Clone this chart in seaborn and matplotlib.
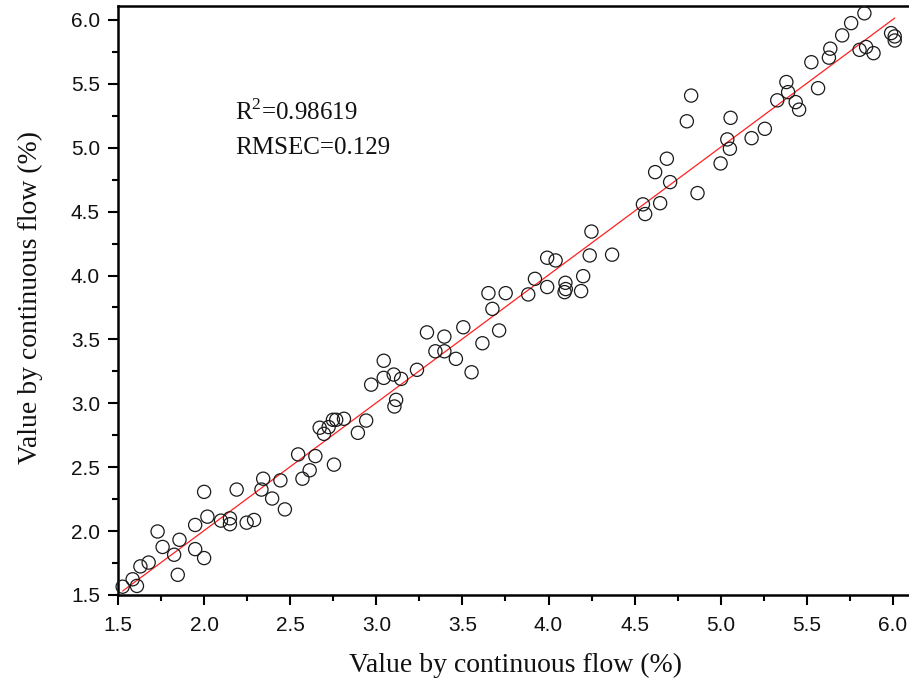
import numpy as np
import pandas as pd
import matplotlib
matplotlib.use("Agg")
import matplotlib.pyplot as plt
import seaborn as sns

# Reference values vs. values measured by continuous flow (%)
reference = [
    1.527, 1.585, 1.610, 1.630, 1.678, 1.730, 1.759, 1.826, 1.857, 1.847,
    1.948, 1.948, 2.000, 2.000, 2.019, 2.098, 2.150, 2.150, 2.189, 2.247,
    2.290, 2.343, 2.333, 2.395, 2.443, 2.469, 2.546, 2.571, 2.613, 2.646,
    2.754, 2.671, 2.696, 2.723, 2.748, 2.767, 2.812, 2.893, 2.941, 2.970,
    3.043, 3.043, 3.101, 3.144, 3.115, 3.105, 3.236, 3.294, 3.343, 3.395,
    3.395, 3.462, 3.505, 3.553, 3.616, 3.713, 3.674, 3.651, 3.751, 3.882,
    3.921, 3.992, 4.041, 3.992, 4.098, 4.093, 4.100, 4.201, 4.189, 4.239,
    4.249, 4.369, 4.548, 4.561, 4.648, 4.619, 4.706, 4.687, 4.865, 4.803,
    4.828, 4.999, 5.038, 5.053, 5.057, 5.179, 5.256, 5.328, 5.381, 5.391,
    5.435, 5.455, 5.565, 5.526, 5.628, 5.636, 5.705, 5.757, 5.834, 5.806,
    5.844, 5.887, 5.989, 6.010, 6.010,
]
measured = [
    1.565, 1.623, 1.571, 1.724, 1.754, 1.997, 1.876, 1.815, 1.932, 1.658,
    2.048, 1.859, 2.307, 1.789, 2.113, 2.082, 2.100, 2.054, 2.325, 2.066,
    2.087, 2.410, 2.325, 2.255, 2.397, 2.170, 2.600, 2.410, 2.476, 2.587,
    2.520, 2.809, 2.761, 2.814, 2.871, 2.871, 2.879, 2.769, 2.865, 3.146,
    3.333, 3.199, 3.225, 3.191, 3.027, 2.975, 3.262, 3.555, 3.407, 3.522,
    3.407, 3.348, 3.595, 3.243, 3.470, 3.570, 3.739, 3.862, 3.862, 3.852,
    3.974, 4.139, 4.118, 3.910, 3.943, 3.870, 3.894, 3.995, 3.878, 4.157,
    4.344, 4.163, 4.557, 4.481, 4.566, 4.809, 4.731, 4.914, 4.645, 5.207,
    5.408, 4.877, 5.065, 4.992, 5.234, 5.075, 5.148, 5.371, 5.514, 5.435,
    5.357, 5.298, 5.466, 5.669, 5.705, 5.775, 5.879, 5.975, 6.052, 5.766,
    5.788, 5.740, 5.897, 5.871, 5.839,
]

x_ticks = [1.5, 2.0, 2.5, 3.0, 3.5, 4.0, 4.5, 5.0, 5.5, 6.0]
y_ticks = [1.5, 2.0, 2.5, 3.0, 3.5, 4.0, 4.5, 5.0, 5.5, 6.0]
r2_text = "R$^2$=0.98619"
rmsec_text = "RMSEC=0.129"
x_label = "Value by continuous flow (%)"
y_label = "Value by continuous flow (%)"

df = pd.DataFrame({"x": reference, "y": measured})

sns.set_theme(style="ticks")
plt.rcParams["font.family"] = ["Liberation Sans", "DejaVu Sans"]
plt.rcParams["mathtext.fontset"] = "custom"
plt.rcParams["mathtext.rm"] = "Liberation Serif"

fig = plt.figure(figsize=(9.09, 6.87), dpi=100)
# axes box: left edge at 118 px, bottom at 595 px, top at 6 px, right past 909 px
ax = fig.add_axes([118 / 909, 92 / 687, 791 / 909, 589 / 687])

# linear fit line
sns.regplot(data=df, x="x", y="y", scatter=False, ci=None, ax=ax,
            line_kws={"color": "#ff2020", "linewidth": 0.9, "zorder": 2})

# open circle markers
sns.scatterplot(data=df, x="x", y="y", ax=ax, marker="o", s=90,
                facecolor="none", edgecolor="#1a1a1a", linewidth=0.9,
                zorder=3, clip_on=False)

ax.set_xlim(1.5, 6.093)
ax.set_ylim(1.5, 6.109)
ax.set_xticks(x_ticks)
ax.set_yticks(y_ticks)
ax.set_xticklabels([f"{t:.1f}" for t in x_ticks])
ax.set_yticklabels([f"{t:.1f}" for t in y_ticks])
ax.set_xticks(np.arange(1.75, 6.0, 0.5), minor=True)
ax.set_yticks(np.arange(1.75, 6.0, 0.5), minor=True)

ax.tick_params(axis="both", which="major", direction="out", length=7,
               width=1.5, color="black", labelsize=15,
               labelcolor="#111111")
ax.tick_params(axis="x", which="major", pad=8)
ax.tick_params(axis="y", which="major", pad=6)
ax.tick_params(axis="both", which="minor", direction="out", length=4,
               width=1.5, color="black")

for side in ["left", "bottom", "top"]:
    ax.spines[side].set_linewidth(1.8)
    ax.spines[side].set_color("black")
ax.spines["right"].set_visible(False)

serif = ["Liberation Serif", "DejaVu Serif"]
ax.set_xlabel(x_label, fontsize=20, family=serif, color="#111111",
              va="center", ha="center")
ax.set_ylabel(y_label, fontsize=20, family=serif, color="#111111",
              va="center", ha="center")
ax.xaxis.set_label_coords(0.5025, -0.119)
ax.yaxis.set_label_coords(-0.111, 0.505)

ax.text(2.18, 5.28, r2_text, fontsize=18, family=serif, color="#111111",
        va="center", ha="left")
ax.text(2.18, 5.00, rmsec_text, fontsize=18, family=serif, color="#111111",
        va="center", ha="left")

fig.savefig("out.png", dpi=100)
